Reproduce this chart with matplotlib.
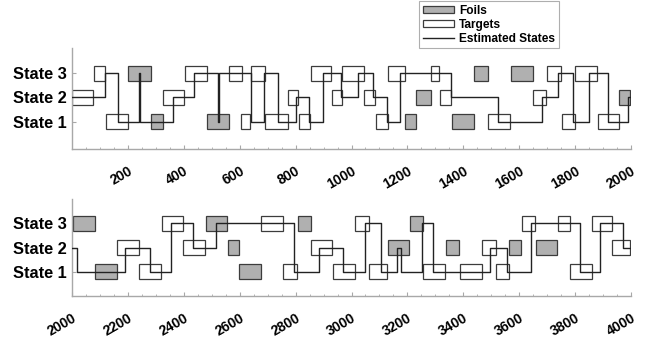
import matplotlib
matplotlib.use("Agg")
import matplotlib.pyplot as plt
import numpy as np
from matplotlib.patches import Rectangle, Patch
from matplotlib.lines import Line2D
from matplotlib.ticker import MultipleLocator

plt.rcParams["font.family"] = ["Liberation Sans", "DejaVu Sans"]

INK = "#222222"; EDGE = "#3c3c3c"; FOIL = "#b0b0b0"; AXIS = "#a8a8a8"

# trial blocks: (onset, offset, state)
targets_a = [(0, 76, 2), (80, 118, 3), (120, 199, 1), (327, 402, 2), (404, 482, 3),
             (563, 607, 3), (606, 637, 1), (640, 689, 3), (692, 772, 1), (772, 809, 2),
             (811, 852, 1), (854, 927, 3), (929, 966, 2), (966, 1045, 3), (1045, 1084, 2),
             (1086, 1130, 1), (1132, 1191, 3), (1284, 1314, 3), (1317, 1356, 2),
             (1490, 1567, 1), (1650, 1696, 2), (1698, 1748, 3), (1752, 1800, 1),
             (1800, 1877, 3), (1881, 1958, 1)]
foils_a = [(201, 282, 3), (282, 324, 1), (483, 563, 1), (1191, 1231, 1), (1231, 1283, 2),
           (1358, 1439, 1), (1439, 1487, 3), (1570, 1648, 3), (1958, 1997, 2)]

targets_b = [(2162, 2240, 2), (2240, 2318, 1), (2321, 2398, 3), (2398, 2476, 2),
             (2676, 2754, 3), (2756, 2806, 1), (2855, 2931, 2), (2935, 3013, 1),
             (3013, 3063, 3), (3064, 3128, 1), (3257, 3335, 1), (3388, 3466, 1),
             (3468, 3516, 2), (3517, 3565, 1), (3609, 3657, 3), (3738, 3782, 3),
             (3782, 3859, 1), (3862, 3933, 3), (3933, 3998, 2)]
foils_b = [(2002, 2082, 3), (2082, 2160, 1), (2478, 2553, 3), (2557, 2597, 2),
           (2597, 2675, 1), (2807, 2854, 3), (3129, 3207, 2), (3209, 3257, 3),
           (3337, 3386, 2), (3565, 3605, 2), (3659, 3736, 2)]

# estimated state: change points and the state entered there
est_t_a = [0, 117, 165, 240, 244, 361, 437, 521, 525, 640, 686, 738, 801, 848, 899,
           961, 1024, 1078, 1126, 1173, 1355, 1525, 1680, 1740, 1794, 1850, 1919, 1991]
est_s_a = [2, 3, 1, 3, 1, 2, 3, 1, 3, 1, 3, 1, 2, 1, 3,
           2, 3, 2, 1, 3, 2, 1, 2, 3, 1, 3, 1, 2]
est_t_b = [2000, 2019, 2190, 2279, 2354, 2432, 2515, 2795, 2885, 2969, 3048, 3104,
           3164, 3177, 3253, 3293, 3495, 3555, 3642, 3817, 3889, 3970]
est_s_b = [2, 1, 2, 1, 3, 2, 3, 1, 2, 1, 3, 1,
           2, 1, 3, 1, 2, 1, 3, 1, 3, 2]

state_labels = ["State 1", "State 2", "State 3"]
BOX_H = 0.62


def draw_panel(ax, targets, foils, est_t, est_s, xmin, xmax, ylim):
    for on, off, s in targets:
        ax.add_patch(Rectangle((on, s - BOX_H / 2), off - on, BOX_H, facecolor="white",
                               edgecolor=EDGE, lw=0.9, zorder=2))
    for on, off, s in foils:
        ax.add_patch(Rectangle((on, s - BOX_H / 2), off - on, BOX_H, facecolor=FOIL,
                               edgecolor=EDGE, lw=0.9, zorder=2))
    t = list(est_t) + [xmax]
    s = list(est_s) + [est_s[-1]]
    ax.step(t, s, where="post", color=INK, lw=1.0, zorder=3)

    ax.set_xlim(xmin, xmax)
    ax.set_ylim(*ylim)
    ax.set_yticks([1, 2, 3])
    ax.set_yticklabels(state_labels, fontsize=11.8, fontweight="bold")
    ticks = np.arange(xmin if xmin > 0 else 200, xmax + 1, 200)
    ax.set_xticks(ticks)
    ax.set_xticklabels([str(v) for v in ticks], rotation=30, ha="right", va="top",
                       rotation_mode="anchor", fontsize=10, fontweight="bold")
    ax.xaxis.set_minor_locator(MultipleLocator(50))
    for sp in ["top", "right"]:
        ax.spines[sp].set_visible(False)
    for sp in ["left", "bottom"]:
        ax.spines[sp].set_color(AXIS); ax.spines[sp].set_linewidth(1.0)
    ax.tick_params(axis="x", which="major", direction="in", length=3, color=AXIS, pad=11)
    ax.tick_params(axis="x", which="minor", direction="in", length=1.5, color=AXIS)
    ax.tick_params(axis="y", direction="in", length=3, color=AXIS, pad=4)


W, H = 657, 338
fig = plt.figure(figsize=(W / 100, H / 100), dpi=100)
ax1 = fig.add_axes([72 / W, 1 - 149 / H, 559 / W, 101 / H])
ax2 = fig.add_axes([72 / W, 1 - 296 / H, 559 / W, 97 / H])

draw_panel(ax1, targets_a, foils_a, est_t_a, est_s_a, 0, 2000, (-0.14, 4.05))
draw_panel(ax2, targets_b, foils_b, est_t_b, est_s_b, 2000, 4000, (0, 4.0))

handles = [Patch(facecolor=FOIL, edgecolor=EDGE, lw=0.9),
           Patch(facecolor="white", edgecolor=EDGE, lw=0.9),
           Line2D([], [], color=INK, lw=1.0)]
leg = fig.legend(handles, ["Foils", "Targets", "Estimated States"], loc="upper left",
                 bbox_to_anchor=(419 / W, 1 - 1 / H), frameon=True, fancybox=False,
                 prop={"weight": "bold", "size": 8.6}, handlelength=2.6, handleheight=0.6,
                 labelspacing=0.18, borderpad=0.3, handletextpad=0.45, borderaxespad=0)
leg.get_frame().set_edgecolor("#9a9a9a")
leg.get_frame().set_linewidth(0.8)

fig.savefig("out.png", dpi=100)
